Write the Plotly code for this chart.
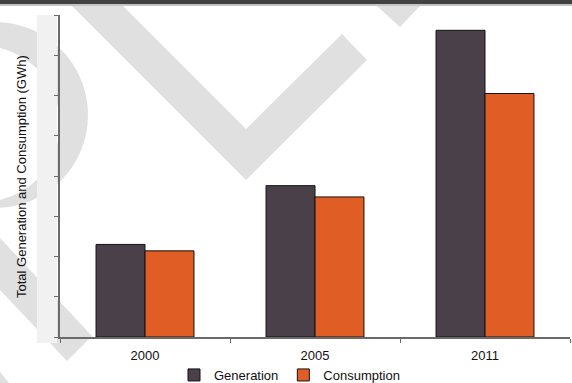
import plotly.graph_objects as go

# ---- data ----
years = ["2000", "2005", "2011"]
generation = [2.30, 3.76, 7.62]
consumption = [2.14, 3.48, 6.05]
series_names = ["Generation", "Consumption"]
y_title = "Total Generation and Consumption (GWh)"

W, H = 572, 383
L, R, T, B = 60, 2, 15, 46
PW, PH = W - L - R, H - T - B


def px(x):
    return (x - L) / PW


def py(y):
    return (H - B - y) / PH


def path(points):
    s = "M" + " L".join(f"{px(x):.5f},{py(y):.5f}" for x, y in points) + " Z"
    return s


fig = go.Figure()
fig.add_trace(go.Bar(x=years, y=generation, name=series_names[0],
                     marker=dict(color="#4a4049", line=dict(color="#111111", width=1))))
fig.add_trace(go.Bar(x=years, y=consumption, name=series_names[1],
                     marker=dict(color="#e05e26", line=dict(color="#111111", width=1))))

wm = "#e0e0e0"
shapes = []
# watermark: V shape
shapes.append(dict(type="path", xref="paper", yref="paper", layer="below",
                   path=path([(72, 6), (246, 180), (367, 60), (342, 34), (246, 129), (123, 6)]),
                   fillcolor=wm, line=dict(width=0)))
# small top triangle
shapes.append(dict(type="path", xref="paper", yref="paper", layer="below",
                   path=path([(377, 6), (420, 6), (400, 27)]),
                   fillcolor=wm, line=dict(width=0)))
# left ring (outer circle minus inner circle)
shapes.append(dict(type="circle", xref="paper", yref="paper", layer="below",
                   x0=px(-98), x1=px(88), y0=py(208), y1=py(22),
                   fillcolor=wm, line=dict(width=0)))
shapes.append(dict(type="circle", xref="paper", yref="paper", layer="below",
                   x0=px(-96), x1=px(60), y0=py(202), y1=py(46),
                   fillcolor="white", line=dict(width=0)))
# lower-left diagonal band
shapes.append(dict(type="path", xref="paper", yref="paper", layer="below",
                   path=path([(0, 238), (92, 336), (67, 361), (0, 290)]),
                   fillcolor=wm, line=dict(width=0)))
shapes.append(dict(type="path", xref="paper", yref="paper", layer="below",
                   path=path([(0, 372), (9, 383), (0, 383)]),
                   fillcolor=wm, line=dict(width=0)))
# dotted strip next to the value axis
shapes.append(dict(type="rect", xref="paper", yref="paper", layer="below",
                   x0=px(37), x1=px(57), y0=py(343), y1=py(15),
                   fillcolor="#f1f1f1", line=dict(width=0)))
# header bars
shapes.append(dict(type="rect", xref="paper", yref="paper", layer="above",
                   x0=px(0), x1=px(W), y0=py(4), y1=py(0),
                   fillcolor="#424242", line=dict(width=0)))
shapes.append(dict(type="rect", xref="paper", yref="paper", layer="above",
                   x0=px(0), x1=px(W), y0=py(6), y1=py(4),
                   fillcolor="#c4c4c4", line=dict(width=0)))

fig.update_layout(
    width=W, height=H,
    margin=dict(l=L, r=R, t=T, b=B, pad=0, autoexpand=False),
    paper_bgcolor="white", plot_bgcolor="rgba(0,0,0,0)",
    font=dict(family="Liberation Sans, Arial, sans-serif", size=13, color="#111111"),
    barmode="group", bargap=0.424, bargroupgap=0,
    showlegend=True,
    legend=dict(orientation="h", x=px(174), xanchor="left", y=py(375), yanchor="middle",
                font=dict(size=13), bgcolor="rgba(0,0,0,0)", borderwidth=0,
                traceorder="normal"),
    shapes=shapes,
    annotations=[dict(text=y_title, xref="paper", yref="paper", x=px(22), y=py(177),
                      xanchor="center", yanchor="middle", textangle=-90, showarrow=False,
                      font=dict(size=13, color="#111111"))],
)
fig.update_xaxes(showline=True, linecolor="#6a6a6a", linewidth=1.5, ticks="outside",
                 tickson="boundaries", ticklen=4, tickcolor="#6a6a6a", tickwidth=1,
                 ticklabelstandoff=6,
                 showgrid=False, zeroline=False, tickfont=dict(size=13))
fig.update_yaxes(range=[0, 8], dtick=1, showline=True, linecolor="#6a6a6a", linewidth=1.5,
                 ticks="outside", ticklen=4, tickcolor="#6a6a6a", tickwidth=1,
                 showticklabels=False, showgrid=False, zeroline=False)

fig.write_html("out.html")
